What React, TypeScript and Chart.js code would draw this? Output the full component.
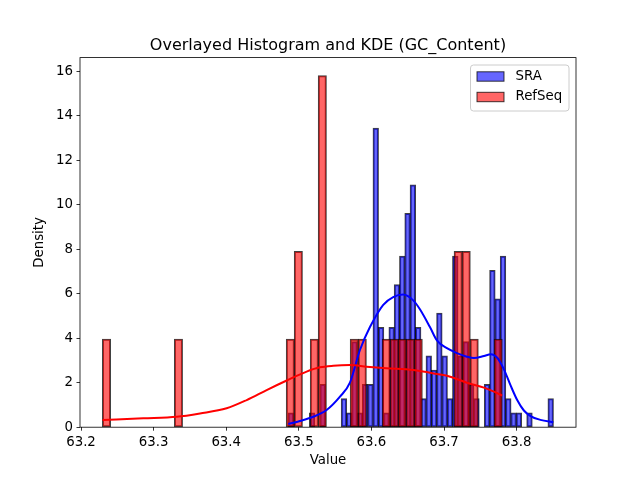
import React, { useEffect, useRef } from "react";
import { Chart, registerables } from "chart.js";

Chart.register(...registerables);

// Histogram bin counts (50 equal-width bins over each sample's range)
const SRA_COUNTS = [
  1, 0, 0, 0, 1, 0, 3, 0, 0, 0,
  2, 1, 6, 1, 3, 3, 21, 7, 1, 7,
  10, 12, 15, 17, 7, 2, 5, 4, 8, 5,
  2, 12, 5, 6, 3, 2, 0, 3, 11, 9,
  12, 2, 1, 1, 0, 1, 0, 0, 0, 2,
];
const REFSEQ_COUNTS = [
  1, 0, 0, 0, 0, 0, 0, 0, 0, 1,
  0, 0, 0, 0, 0, 0, 0, 0, 0, 0,
  0, 0, 0, 1, 2, 0, 1, 4, 0, 0,
  0, 1, 1, 0, 0, 1, 1, 1, 1, 1,
  0, 0, 0, 0, 2, 2, 1, 0, 0, 1,
];
const SRA_RANGE = [63.4855, 63.8506];
const REFSEQ_RANGE = [63.2296, 63.7801];

// Kernel density estimates
const SRA_KDE_X = [
  63.4855, 63.5016, 63.5199, 63.5383, 63.5567, 63.5704, 63.5842, 63.598,
  63.6163, 63.63, 63.6438, 63.6576, 63.6668, 63.6806, 63.6902, 63.704,
  63.7178, 63.7315, 63.7412, 63.755, 63.7646, 63.7733, 63.7825, 63.7914,
  63.8008, 63.81, 63.8192, 63.8327, 63.8506,
];
const SRA_KDE_Y = [
  0.14, 0.28, 0.47, 0.77, 1.37, 2.0, 3.47, 4.5,
  5.5, 5.85, 5.96, 5.7, 5.3, 4.5, 3.9, 3.55,
  3.33, 3.17, 3.11, 3.2, 3.28, 3.12, 2.6, 1.9,
  1.22, 0.75, 0.5, 0.33, 0.22,
];
const REFSEQ_KDE_X = [
  63.2296, 63.2858, 63.3318, 63.3639, 63.4006, 63.4282, 63.4557, 63.4833,
  63.5108, 63.5291, 63.5474, 63.5704, 63.5934, 63.621, 63.6576, 63.6902,
  63.7085, 63.7315, 63.755, 63.7687, 63.7801,
];
const REFSEQ_KDE_Y = [
  0.32, 0.4, 0.47, 0.62, 0.85, 1.22, 1.67, 2.1,
  2.5, 2.69, 2.76, 2.79, 2.72, 2.65, 2.57, 2.39,
  2.27, 2.0, 1.78, 1.6, 1.42,
];

const X_TICKS = [63.2, 63.3, 63.4, 63.5, 63.6, 63.7, 63.8];
const Y_TICKS = [0, 2, 4, 6, 8, 10, 12, 14, 16];
const X_MIN = 63.1986;
const X_MAX = 63.8818;
const Y_MAX = 16.61;

const TITLE = "Overlayed Histogram and KDE (GC_Content)";
const X_LABEL = "Value";
const Y_LABEL = "Density";
const SERIES = ["SRA", "RefSeq"];

const FONT = "'DejaVu Sans', sans-serif";
const BLUE_FILL = "rgba(0, 0, 255, 0.6)";
const RED_FILL = "rgba(255, 0, 0, 0.6)";
const EDGE = "rgba(0, 0, 0, 0.75)";

function densityBars(counts: number[], range: number[]) {
  const total = counts.reduce((a, b) => a + b, 0);
  const w = (range[1] - range[0]) / counts.length;
  return counts.map((c, i) => ({
    x: range[0] + w * (i + 0.5),
    y: c / (total * w),
  }));
}

function curve(xs: number[], ys: number[]) {
  return xs.map((x, i) => ({ x, y: ys[i] }));
}

const decorations = {
  id: "decorations",
  afterDraw(chart: any) {
    const { ctx, chartArea } = chart;
    const { left, right, top, bottom } = chartArea;
    ctx.save();

    // axes frame
    ctx.strokeStyle = "#000";
    ctx.lineWidth = 0.8;
    ctx.strokeRect(left, top, right - left, bottom - top);

    ctx.fillStyle = "#000";
    // title
    ctx.font = `16px ${FONT}`;
    ctx.textAlign = "center";
    ctx.textBaseline = "alphabetic";
    ctx.fillText(TITLE, (left + right) / 2, top - 8);

    // axis labels
    ctx.font = `13.33px ${FONT}`;
    ctx.textBaseline = "top";
    ctx.fillText(X_LABEL, (left + right) / 2, 454);
    ctx.save();
    ctx.translate(40, (top + bottom) / 2);
    ctx.rotate(-Math.PI / 2);
    ctx.textBaseline = "middle";
    ctx.fillText(Y_LABEL, 0, 0);
    ctx.restore();

    // legend
    const lx = 470.5, ly = 65, lw = 98.5, lh = 46;
    ctx.beginPath();
    ctx.roundRect(lx, ly, lw, lh, 3);
    ctx.fillStyle = "rgba(255,255,255,0.8)";
    ctx.fill();
    ctx.strokeStyle = "#cccccc";
    ctx.lineWidth = 1;
    ctx.stroke();

    const fills = [BLUE_FILL, RED_FILL];
    SERIES.forEach((name, i) => {
      const cy = 76.5 + i * 20.5;
      ctx.fillStyle = fills[i];
      ctx.fillRect(477, cy - 4.7, 27, 9.4);
      ctx.strokeStyle = EDGE;
      ctx.lineWidth = 1;
      ctx.strokeRect(477, cy - 4.7, 27, 9.4);
      ctx.fillStyle = "#000";
      ctx.font = `13.33px ${FONT}`;
      ctx.textAlign = "left";
      ctx.textBaseline = "middle";
      ctx.fillText(name, 515.5, cy);
    });

    ctx.restore();
  },
};

export default function App() {
  const canvasRef = useRef<HTMLCanvasElement | null>(null);

  useEffect(() => {
    const canvas = canvasRef.current;
    if (!canvas) return;

    const barCommon = {
      type: "bar" as const,
      barPercentage: 1,
      categoryPercentage: 1,
      grouped: false,
      borderWidth: 1,
      borderColor: EDGE,
      borderSkipped: false,
      inflateAmount: 0.5,
    };
    const lineCommon = {
      type: "line" as const,
      xAxisID: "x",
      pointRadius: 0,
      borderWidth: 2,
      fill: false,
      cubicInterpolationMode: "monotone" as const,
    };

    const tickFont = { family: FONT, size: 13.33 };
    const setXTicks = (s: any) => {
      s.ticks = X_TICKS.map((v) => ({ value: v }));
    };

    const chart = new Chart(canvas, {
      type: "bar",
      data: {
        datasets: [
          {
            ...barCommon,
            label: SERIES[0],
            xAxisID: "x",
            data: densityBars(SRA_COUNTS, SRA_RANGE),
            backgroundColor: BLUE_FILL,
            order: 4,
          },
          {
            ...barCommon,
            label: SERIES[1],
            xAxisID: "xr",
            data: densityBars(REFSEQ_COUNTS, REFSEQ_RANGE),
            backgroundColor: RED_FILL,
            order: 3,
          },
          {
            ...lineCommon,
            label: SERIES[0] + " KDE",
            data: curve(SRA_KDE_X, SRA_KDE_Y),
            borderColor: "#0000ff",
            order: 2,
          },
          {
            ...lineCommon,
            label: SERIES[1] + " KDE",
            data: curve(REFSEQ_KDE_X, REFSEQ_KDE_Y),
            borderColor: "#ff0000",
            order: 1,
          },
        ] as any,
      },
      options: {
        animation: false,
        responsive: false,
        devicePixelRatio: 1,
        layout: { padding: { left: 0, right: 64, top: 57.6, bottom: 0 } },
        plugins: {
          legend: { display: false },
          title: { display: false },
          tooltip: { enabled: false },
        },
        scales: {
          x: {
            type: "linear",
            offset: false,
            min: X_MIN,
            max: X_MAX,
            afterBuildTicks: setXTicks,
            afterFit: (s: any) => {
              s.height = 52.8;
            },
            grid: {
              display: true,
              offset: false,
              drawOnChartArea: false,
              drawTicks: true,
              tickLength: 3.5,
              tickColor: "#000",
              tickWidth: 0.8,
            },
            border: { display: false },
            ticks: {
              padding: 3.5,
              color: "#000",
              font: tickFont,
              maxRotation: 0,
              autoSkip: false,
              callback: (v: any) => Number(v).toFixed(1),
            },
          },
          xr: {
            type: "linear",
            display: false,
            offset: false,
            min: X_MIN,
            max: X_MAX,
            afterBuildTicks: setXTicks,
            grid: { offset: false },
          },
          y: {
            type: "linear",
            min: 0,
            max: Y_MAX,
            afterBuildTicks: (s: any) => {
              s.ticks = Y_TICKS.map((v) => ({ value: v }));
            },
            afterFit: (s: any) => {
              s.width = 80;
            },
            grid: {
              display: true,
              drawOnChartArea: false,
              drawTicks: true,
              tickLength: 3.5,
              tickColor: "#000",
              tickWidth: 0.8,
            },
            border: { display: false },
            ticks: {
              padding: 3.5,
              color: "#000",
              font: tickFont,
              autoSkip: false,
              callback: (v: any) => String(Math.round(Number(v))),
            },
          },
        },
      } as any,
      plugins: [decorations],
    });

    return () => chart.destroy();
  }, []);

  return (
    <div style={{ position: "fixed", left: 0, top: 0, width: 640, height: 480, background: "#fff" }}>
      <canvas ref={canvasRef} width={640} height={480} style={{ width: 640, height: 480 }} />
    </div>
  );
}
